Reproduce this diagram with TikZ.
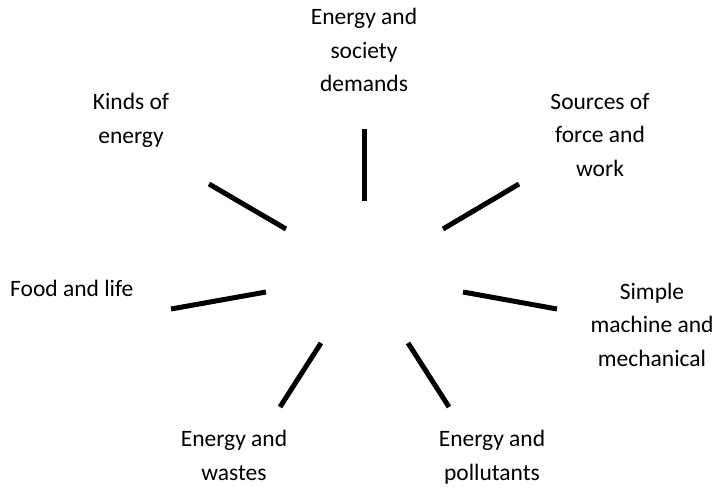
\documentclass[tikz,border=0pt]{standalone}
\usepackage{fontspec}
\setmainfont{Carlito}
\tikzset{
    % Label Style
    topic/.style={
        align=center,
        inner sep=0pt,
        anchor=base,
        font=\fontsize{23.5}{33.5}\selectfont
    },
    % Spoke Style
    spoke/.style={line width=5pt, draw=black}
}
\begin{document}
\begin{tikzpicture}[x=1pt, y=-1pt]
    \useasboundingbox (0,0) rectangle (720,492);

    % --- Labels round the hub (placed by their last line) ---
    \node (society) [topic] at (364,92) {Energy and\\ society\\ demands};
    \node (kinds) [topic] at (131,143) {Kinds of\\ energy};
    \node (sources) [topic] at (600,176) {Sources of\\ force and\\ work};
    \node (food) [topic, anchor=base west] at (10,296) {Food and life};
    \node (simple) [topic] at (652,366) {Simple\\ machine and\\ mechanical};
    \node (wastes) [topic] at (234,480) {Energy and\\ wastes};
    \node (pollut) [topic] at (492,480) {Energy and\\ pollutants};

    % --- Spoke ends ---
    \coordinate (societyIn) at (364,201);
    \coordinate (societyOut) at (364,129);
    \coordinate (kindsIn) at (286,229);
    \coordinate (kindsOut) at (209,184);
    \coordinate (sourcesIn) at (443,229);
    \coordinate (sourcesOut) at (519,184);
    \coordinate (foodIn) at (266,292);
    \coordinate (foodOut) at (171,309);
    \coordinate (simpleIn) at (463,292);
    \coordinate (simpleOut) at (557,309);
    \coordinate (wastesIn) at (321,343);
    \coordinate (wastesOut) at (280,407);
    \coordinate (pollutIn) at (408,343);
    \coordinate (pollutOut) at (449,407);

    % --- Spokes ---
    \draw [spoke] (societyIn) -- (societyOut);
    \draw [spoke] (kindsIn) -- (kindsOut);
    \draw [spoke] (sourcesIn) -- (sourcesOut);
    \draw [spoke] (foodIn) -- (foodOut);
    \draw [spoke] (simpleIn) -- (simpleOut);
    \draw [spoke] (wastesIn) -- (wastesOut);
    \draw [spoke] (pollutIn) -- (pollutOut);

\end{tikzpicture}
\end{document}
